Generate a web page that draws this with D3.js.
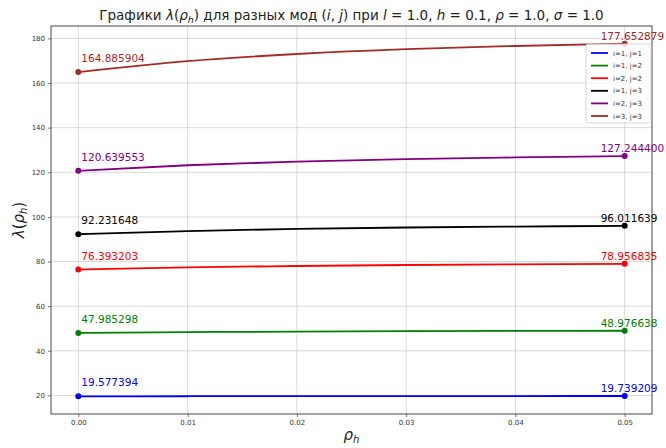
<!DOCTYPE html>
<html><head><meta charset="utf-8">
<script src="https://cdn.jsdelivr.net/npm/d3@7"></script>
<style>
body{margin:0;background:#fff;}
text{font-family:"DejaVu Sans",sans-serif;}
</style></head>
<body>
<svg id="c" width="666" height="448"></svg>
<script>
const rho = [0.00, 0.01, 0.02, 0.03, 0.04, 0.05];
const seriesNames = ["i=1, j=1","i=1, j=2","i=2, j=2","i=1, j=3","i=2, j=3","i=3, j=3"];
const seriesColors = ["#0000ff","#008000","#ff0000","#000000","#800080","#a52a2a"];
const s11 = [19.577394, 19.639, 19.679, 19.707, 19.725, 19.739209];
const s12 = [47.985298, 48.36, 48.61, 48.78, 48.89, 48.976638];
const s22 = [76.393203, 77.37, 78.01, 78.44, 78.73, 78.956835];
const s13 = [92.231648, 93.67, 94.61, 95.26, 95.67, 96.011639];
const s23 = [120.639553, 123.15, 124.80, 125.92, 126.65, 127.244400];
const s33 = [164.885904, 169.8, 173.0, 175.2, 176.6, 177.652879];
const seriesValues = [s11, s12, s22, s13, s23, s33];
const xTicks = [0.00, 0.01, 0.02, 0.03, 0.04, 0.05];
const yTicks = [20, 40, 60, 80, 100, 120, 140, 160, 180];

const svg = d3.select("#c");
const L = 51, R = 652, T = 26, B = 414;
const allV = seriesValues.flat();
const vmin = d3.min(allV), vmax = d3.max(allV), vr = vmax - vmin;
const x = d3.scaleLinear().domain([-0.0025, 0.0525]).range([L, R]);
const y = d3.scaleLinear().domain([vmin - 0.05*vr, vmax + 0.05*vr]).range([B, T]);

// grid
svg.append("g").selectAll("line").data(xTicks).join("line")
  .attr("x1", d=>x(d)).attr("x2", d=>x(d)).attr("y1", T).attr("y2", B)
  .attr("stroke", "#b0b0b0").attr("stroke-opacity", 0.6).attr("stroke-width", 0.8);
svg.append("g").selectAll("line").data(yTicks).join("line")
  .attr("y1", d=>y(d)).attr("y2", d=>y(d)).attr("x1", L).attr("x2", R)
  .attr("stroke", "#b0b0b0").attr("stroke-opacity", 0.6).attr("stroke-width", 0.8);

// axes
const xa = svg.append("g").attr("transform", `translate(0,${B})`)
  .call(d3.axisBottom(x).tickValues(xTicks).tickFormat(d3.format(".2f")).tickSize(3).tickPadding(3));
const ya = svg.append("g").attr("transform", `translate(${L},0)`)
  .call(d3.axisLeft(y).tickValues(yTicks).tickFormat(d3.format("d")).tickSize(3).tickPadding(3));
[xa, ya].forEach(g => {
  g.select(".domain").remove();
  g.selectAll("text").attr("font-size", 7).attr("fill", "#333").style("font-family", "DejaVu Sans");
  g.selectAll("line").attr("stroke", "#444").attr("stroke-width", 0.7);
});
svg.append("rect").attr("x", L).attr("y", T).attr("width", R-L).attr("height", B-T)
  .attr("fill", "none").attr("stroke", "#333").attr("stroke-width", 0.9);

// lines
const line = d3.line().x((d,i)=>x(rho[i])).y(d=>y(d)).curve(d3.curveMonotoneX);
seriesValues.forEach((vals, k) => {
  const c = seriesColors[k];
  svg.append("path").attr("d", line(vals)).attr("fill", "none")
    .attr("stroke", c).attr("stroke-width", 1.8);
  const n = vals.length - 1;
  [0, n].forEach(i => {
    svg.append("circle").attr("cx", x(rho[i])).attr("cy", y(vals[i])).attr("r", 3).attr("fill", c);
  });
  svg.append("text").attr("x", x(rho[0]) + 3).attr("y", y(vals[0]) - 10)
    .attr("font-size", 10.5).attr("fill", c).text(vals[0].toFixed(6));
  svg.append("text").attr("x", x(rho[n]) - 24).attr("y", y(vals[n]) - 4)
    .attr("font-size", 10.5).attr("fill", c).text(vals[n].toFixed(6));
});

// legend
const lg = svg.append("g").attr("transform", "translate(586,44)");
lg.append("rect").attr("width", 65).attr("height", 79).attr("rx", 2)
  .attr("fill", "#fff").attr("fill-opacity", 0.8).attr("stroke", "#ccc").attr("stroke-width", 0.8);
seriesNames.forEach((nm, k) => {
  const yy = 9 + k * 12.6;
  lg.append("line").attr("x1", 5).attr("x2", 22).attr("y1", yy).attr("y2", yy)
    .attr("stroke", seriesColors[k]).attr("stroke-width", 1.8);
  lg.append("text").attr("x", 27).attr("y", yy + 2.5).attr("font-size", 7).attr("fill", "#333").text(nm);
});

// title
const title = svg.append("text").attr("x", (L+R)/2).attr("y", 20).attr("text-anchor", "middle")
  .attr("font-size", 13.5).attr("fill", "#222");
title.append("tspan").text("Графики ");
title.append("tspan").attr("font-style", "italic").text("λ");
title.append("tspan").text("(");
title.append("tspan").attr("font-style", "italic").text("ρ");
title.append("tspan").attr("font-style", "italic").attr("font-size", 9.5).attr("dy", 3).text("h");
title.append("tspan").attr("dy", -3).text(") для разных мод (");
title.append("tspan").attr("font-style", "italic").text("i");
title.append("tspan").text(", ");
title.append("tspan").attr("font-style", "italic").text("j");
title.append("tspan").text(") при ");
title.append("tspan").attr("font-style", "italic").text("l");
title.append("tspan").text(" = 1.0, ");
title.append("tspan").attr("font-style", "italic").text("h");
title.append("tspan").text(" = 0.1, ");
title.append("tspan").attr("font-style", "italic").text("ρ");
title.append("tspan").text(" = 1.0, ");
title.append("tspan").attr("font-style", "italic").text("σ");
title.append("tspan").text(" = 1.0");

// axis labels
const xl = svg.append("text").attr("x", (L+R)/2).attr("y", 440).attr("text-anchor", "middle")
  .attr("font-size", 15).attr("fill", "#222");
xl.append("tspan").attr("font-style", "italic").text("ρ");
xl.append("tspan").attr("font-style", "italic").attr("font-size", 10).attr("dy", 3).text("h");

const yl = svg.append("text").attr("transform", `translate(24,${(T+B)/2}) rotate(-90)`)
  .attr("text-anchor", "middle").attr("font-size", 15).attr("fill", "#222");
yl.append("tspan").attr("font-style", "italic").text("λ");
yl.append("tspan").text("(");
yl.append("tspan").attr("font-style", "italic").text("ρ");
yl.append("tspan").attr("font-style", "italic").attr("font-size", 10).attr("dy", 3).text("h");
yl.append("tspan").attr("dy", -3).text(")");
</script>
</body></html>
